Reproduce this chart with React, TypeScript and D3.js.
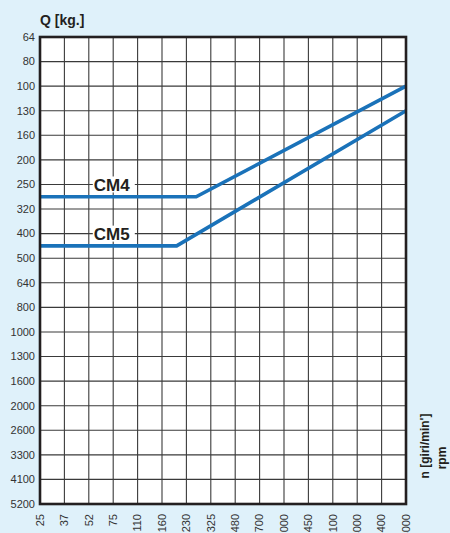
import React from "react";
import * as d3 from "d3";

const yTicks = [64, 80, 100, 130, 160, 200, 250, 320, 400, 500, 640, 800, 1000, 1300, 1600, 2000, 2600, 3300, 4100, 5200];
const xTicks = [25, 37, 52, 75, 110, 160, 230, 325, 480, 700, 1000, 1450, 2100, 3000, 4400, 6000];

const cm4 = [
  { n: 25, q: 285 },
  { n: 268, q: 285 },
  { n: 6000, q: 100 },
];
const cm5 = [
  { n: 25, q: 450 },
  { n: 202, q: 450 },
  { n: 6000, q: 130 },
];
const seriesNames = ["CM4", "CM5"];

const W = 450, H = 533;
const L = 40, R = 406, T = 37, B = 504;

export default function App() {
  const x = d3.scaleLinear().domain(xTicks).range(xTicks.map((_, i) => L + (i * (R - L)) / (xTicks.length - 1)));
  const y = d3.scaleLinear().domain(yTicks).range(yTicks.map((_, i) => T + (i * (B - T)) / (yTicks.length - 1)));
  const line = d3.line<{ n: number; q: number }>().x((d) => x(d.n)).y((d) => y(d.q));
  const font = "Liberation Sans, Arial, sans-serif";
  const labels = [
    { name: seriesNames[0], n: 52, q: 250 },
    { name: seriesNames[1], n: 52, q: 400 },
  ];
  return (
    <svg width={W} height={H} style={{ position: "fixed", left: 0, top: 0 }} fontFamily={font}>
      <rect x={0} y={0} width={W} height={H} fill="#dff1fa" />
      <rect x={L} y={T} width={R - L} height={B - T} fill="#ffffff" />
      {xTicks.map((t, i) => (
        <line key={"vx" + i} x1={x(t)} x2={x(t)} y1={T} y2={B} stroke="#3a3a3a" strokeWidth={1.1} />
      ))}
      {yTicks.map((t, i) => (
        <line key={"hy" + i} x1={L} x2={R} y1={y(t)} y2={y(t)} stroke="#3a3a3a" strokeWidth={1.1} />
      ))}
      {labels.map((l) => (
        <g key={l.name}>
          <rect x={x(l.n) + 4} y={y(l.q) - 8} width={42} height={16} fill="#ffffff" />
          <text x={x(l.n) + 5} y={y(l.q)} dy="0.36em" fontSize={17} fontWeight="bold" fill="#231f20">
            {l.name}
          </text>
        </g>
      ))}
      <path d={line(cm4) || ""} fill="none" stroke="#1a72b9" strokeWidth={3.6} />
      <path d={line(cm5) || ""} fill="none" stroke="#1a72b9" strokeWidth={3.6} />
      <rect x={L} y={T} width={R - L} height={B - T} fill="none" stroke="#231f20" strokeWidth={2.6} />
      {yTicks.map((t, i) => (
        <text key={"yl" + i} x={35} y={y(t)} dy="0.35em" textAnchor="end" fontSize={11} fill="#333">
          {t}
        </text>
      ))}
      {xTicks.map((t, i) => (
        <text
          key={"xl" + i}
          transform={`translate(${x(t)},514) rotate(-90)`}
          dy="0.35em"
          textAnchor="end"
          fontSize={11}
          fill="#333"
        >
          {t}
        </text>
      ))}
      <text x={40} y={25} fontSize={14} fontWeight="bold" fill="#231f20">Q [kg.]</text>
      <text transform="translate(425,446) rotate(-90)" dy="0.35em" textAnchor="middle" fontSize={12} fontWeight="bold" fill="#231f20">
        n [giri/min']
      </text>
      <text transform="translate(442,458) rotate(-90)" dy="0.35em" textAnchor="middle" fontSize={12} fontWeight="bold" fill="#231f20">
        rpm
      </text>
    </svg>
  );
}
